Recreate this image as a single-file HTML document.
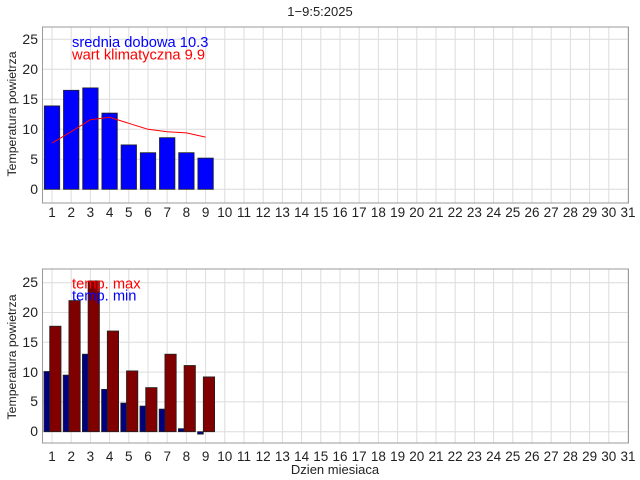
<!DOCTYPE html>
<html><head><meta charset="utf-8"><style>
html,body{margin:0;padding:0;background:#fff}
svg{display:block;font-family:"Liberation Sans",sans-serif;font-size:13px}
</style></head><body>
<svg width="640" height="480" viewBox="0 0 640 480" xmlns="http://www.w3.org/2000/svg" fill="#222">
<defs>
<pattern id="vg" patternUnits="userSpaceOnUse" x="51.5" y="0" width="19.2" height="480">
<line x1="0.5" y1="0" x2="0.5" y2="480" stroke="#dcdcdc" stroke-width="1"/>
</pattern>
</defs>
<rect width="640" height="480" fill="#fff"/>
<text x="320" y="16" text-anchor="middle" style="font-size:13px">1−9:5:2025</text>

<!-- TOP AXES -->
<rect x="43" y="27" width="586" height="176" fill="url(#vg)"/>
<g stroke="#dcdcdc" stroke-width="1">
<line x1="43" y1="189.3" x2="629" y2="189.3"/>
<line x1="43" y1="159.3" x2="629" y2="159.3"/>
<line x1="43" y1="129.3" x2="629" y2="129.3"/>
<line x1="43" y1="99.3" x2="629" y2="99.3"/>
<line x1="43" y1="69.3" x2="629" y2="69.3"/>
<line x1="43" y1="39.3" x2="629" y2="39.3"/>
</g>
<g fill="#0000ff" stroke="#222" stroke-width="0.8">
<rect x="44.3" y="105.9" width="15.4" height="83.4"/>
<rect x="63.5" y="90.3" width="15.4" height="99"/>
<rect x="82.7" y="87.9" width="15.4" height="101.4"/>
<rect x="101.9" y="113.1" width="15.4" height="76.2"/>
<rect x="121.1" y="144.9" width="15.4" height="44.4"/>
<rect x="140.3" y="152.7" width="15.4" height="36.6"/>
<rect x="159.5" y="137.7" width="15.4" height="51.6"/>
<rect x="178.7" y="152.7" width="15.4" height="36.6"/>
<rect x="197.9" y="158.1" width="15.4" height="31.2"/>
</g>
<polyline fill="none" stroke="#ff0000" stroke-width="1" points="52,143.1 71.2,131.7 90.4,119.7 109.6,117.3 128.8,123.3 148,129.3 167.2,131.7 186.4,132.9 205.6,137.1"/>
<rect x="42.5" y="27" width="586" height="176" fill="none" stroke="#999" stroke-width="1"/>
<text x="72" y="47" style="font-size:14.7px;fill:#0000ff">srednia dobowa 10.3</text>
<text x="72" y="59.5" style="font-size:14.7px;fill:#ff0000">wart klimatyczna 9.9</text>
<g text-anchor="end" style="font-size:14px">
<text x="38" y="194">0</text><text x="38" y="164">5</text><text x="38" y="134">10</text>
<text x="38" y="104">15</text><text x="38" y="74">20</text><text x="38" y="44">25</text>
</g>
<text transform="translate(16,114) rotate(-90)" text-anchor="middle" style="font-size:12.3px">Temperatura powietrza</text>
<g text-anchor="middle" style="font-size:13.5px">
<text x="52" y="217">1</text><text x="71.2" y="217">2</text><text x="90.4" y="217">3</text><text x="109.6" y="217">4</text><text x="128.8" y="217">5</text><text x="148" y="217">6</text><text x="167.2" y="217">7</text><text x="186.4" y="217">8</text><text x="205.6" y="217">9</text><text x="224.8" y="217">10</text><text x="244" y="217">11</text><text x="263.2" y="217">12</text><text x="282.4" y="217">13</text><text x="301.6" y="217">14</text><text x="320.8" y="217">15</text><text x="340" y="217">16</text><text x="359.2" y="217">17</text><text x="378.4" y="217">18</text><text x="397.6" y="217">19</text><text x="416.8" y="217">20</text><text x="436" y="217">21</text><text x="455.2" y="217">22</text><text x="474.4" y="217">23</text><text x="493.6" y="217">24</text><text x="512.8" y="217">25</text><text x="532" y="217">26</text><text x="551.2" y="217">27</text><text x="570.4" y="217">28</text><text x="589.6" y="217">29</text><text x="608.8" y="217">30</text><text x="628" y="217">31</text>
</g>

<!-- BOTTOM AXES -->
<rect x="43" y="269" width="586" height="174" fill="url(#vg)"/>
<g stroke="#dcdcdc" stroke-width="1">
<line x1="43" y1="431.7" x2="629" y2="431.7"/>
<line x1="43" y1="401.9" x2="629" y2="401.9"/>
<line x1="43" y1="372.1" x2="629" y2="372.1"/>
<line x1="43" y1="342.3" x2="629" y2="342.3"/>
<line x1="43" y1="312.5" x2="629" y2="312.5"/>
<line x1="43" y1="282.7" x2="629" y2="282.7"/>
</g>
<g fill="#000080" stroke="#222" stroke-width="0.8">
<rect x="44" y="371.5" width="5.7" height="60.2"/>
<rect x="63.2" y="375.1" width="5.7" height="56.6"/>
<rect x="82.4" y="354.2" width="5.7" height="77.5"/>
<rect x="101.6" y="389.4" width="5.7" height="42.3"/>
<rect x="120.8" y="403.1" width="5.7" height="28.6"/>
<rect x="140" y="406.1" width="5.7" height="25.6"/>
<rect x="159.2" y="409.1" width="5.7" height="22.6"/>
<rect x="178.4" y="428.7" width="5.7" height="3"/>
<rect x="197.6" y="431.7" width="5.7" height="2.4"/>
</g>
<g fill="#800000" stroke="#222" stroke-width="0.8">
<rect x="49.7" y="326.2" width="11.3" height="105.5"/>
<rect x="68.9" y="300.6" width="11.3" height="131.1"/>
<rect x="88.1" y="280.9" width="11.3" height="150.8"/>
<rect x="107.3" y="331" width="11.3" height="100.7"/>
<rect x="126.5" y="370.9" width="11.3" height="60.8"/>
<rect x="145.7" y="387.6" width="11.3" height="44.1"/>
<rect x="164.9" y="354.2" width="11.3" height="77.5"/>
<rect x="184.1" y="365.5" width="11.3" height="66.2"/>
<rect x="203.3" y="376.9" width="11.3" height="54.8"/>
</g>
<rect x="42.5" y="269" width="586" height="174" fill="none" stroke="#999" stroke-width="1"/>
<text x="72" y="288.5" style="font-size:14.7px;fill:#ff0000">temp. max</text>
<text x="72" y="300.5" style="font-size:14.7px;fill:#0000ff">temp. min</text>
<g text-anchor="end" style="font-size:14px">
<text x="38" y="436">0</text><text x="38" y="406">5</text><text x="38" y="377">10</text>
<text x="38" y="347">15</text><text x="38" y="317">20</text><text x="38" y="287">25</text>
</g>
<text transform="translate(16,357) rotate(-90)" text-anchor="middle" style="font-size:12.3px">Temperatura powietrza</text>
<g text-anchor="middle" style="font-size:13.5px">
<text x="52" y="461">1</text><text x="71.2" y="461">2</text><text x="90.4" y="461">3</text><text x="109.6" y="461">4</text><text x="128.8" y="461">5</text><text x="148" y="461">6</text><text x="167.2" y="461">7</text><text x="186.4" y="461">8</text><text x="205.6" y="461">9</text><text x="224.8" y="461">10</text><text x="244" y="461">11</text><text x="263.2" y="461">12</text><text x="282.4" y="461">13</text><text x="301.6" y="461">14</text><text x="320.8" y="461">15</text><text x="340" y="461">16</text><text x="359.2" y="461">17</text><text x="378.4" y="461">18</text><text x="397.6" y="461">19</text><text x="416.8" y="461">20</text><text x="436" y="461">21</text><text x="455.2" y="461">22</text><text x="474.4" y="461">23</text><text x="493.6" y="461">24</text><text x="512.8" y="461">25</text><text x="532" y="461">26</text><text x="551.2" y="461">27</text><text x="570.4" y="461">28</text><text x="589.6" y="461">29</text><text x="608.8" y="461">30</text><text x="628" y="461">31</text>
</g>
<text x="335" y="474" text-anchor="middle" style="font-size:13px">Dzien miesiaca</text>
</svg>
</body></html>
